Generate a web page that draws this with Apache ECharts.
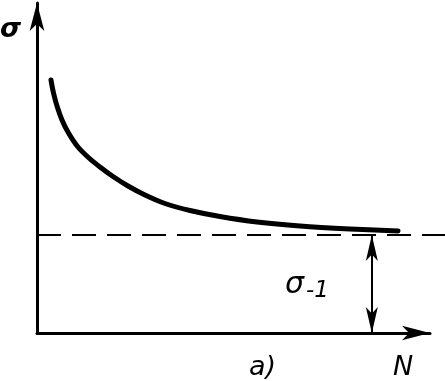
<!DOCTYPE html>
<html>
<head>
<meta charset="utf-8">
<script src="https://cdn.jsdelivr.net/npm/echarts@6/dist/echarts.min.js"></script>
<style>html,body{margin:0;padding:0;background:#fff}#c{width:445px;height:381px}</style>
</head>
<body>
<div id="c"></div>
<script>
// Fatigue (S-N) curve (arbitrary units)
const curveN = [0.356, 0.420, 0.509, 0.636, 0.802, 1.043, 1.323, 1.603, 1.934, 2.316, 2.748, 3.257, 3.893, 4.656, 5.598, 6.692, 7.964, 9.186];
const curveSigma = [7.667, 7.273, 6.879, 6.455, 6.061, 5.636, 5.303, 5.030, 4.742, 4.455, 4.182, 3.924, 3.712, 3.530, 3.364, 3.242, 3.152, 3.091];
const enduranceLimit = 2.97;         // σ-1
const limitLineN = [0, 10.38];       // dashed line extent (runs past the axis arrow)
const limitArrowN = 8.52;            // where σ-1 is dimensioned
const axisNames = { y: 'σ', x: 'N' };
const caption = 'a)';

const chart = echarts.init(document.getElementById('c'));
const hidden = { show: false };
const axisCommon = {
  type: 'value', min: 0, max: 10,
  axisLine: { show: true, lineStyle: { color: '#000', width: 3 }, symbol: ['none', 'arrow'], symbolSize: [11, 28] },
  axisTick: hidden, axisLabel: hidden, splitLine: hidden
};
const hiddenAxis = { type: 'value', min: 0, max: 10, show: false, axisLine: hidden, axisTick: hidden, axisLabel: hidden, splitLine: hidden };
const txt = (size, extra) => Object.assign({ fontSize: size, fontStyle: 'italic', fontFamily: 'DejaVu Sans', fill: '#000' }, extra || {});
chart.setOption({
  animation: false,
  backgroundColor: '#fff',
  grid: [
    { left: 37, right: 15, top: 3, bottom: 48 },
    { left: 37, right: 0, top: 3, bottom: 48 }
  ],
  xAxis: [
    Object.assign({ gridIndex: 0 }, axisCommon),
    Object.assign({}, hiddenAxis, { gridIndex: 1, max: limitLineN[1] })
  ],
  yAxis: [
    Object.assign({ gridIndex: 0 }, axisCommon),
    Object.assign({}, hiddenAxis, { gridIndex: 1 })
  ],
  graphic: [
    { type: 'text', left: 0, top: 16, style: txt(27, { text: axisNames.y, fontWeight: 'bold' }) },
    { type: 'text', left: 393, top: 354, style: txt(27, { text: axisNames.x }) },
    { type: 'text', left: 249, top: 354, style: txt(27, { text: caption }) },
    { type: 'text', left: 285, top: 270, style: {
        text: '{a|σ}{b|-1}',
        rich: {
          a: { fontSize: 30, fontStyle: 'italic', fontFamily: 'DejaVu Sans', fill: '#000' },
          b: { fontSize: 23, fontStyle: 'italic', fontFamily: 'DejaVu Sans', fill: '#000', padding: [12, 0, 0, 2] }
        } } }
  ],
  series: [
    {
      type: 'custom', coordinateSystem: 'cartesian2d', xAxisIndex: 0, yAxisIndex: 0,
      data: curveN.map((n, i) => [n, curveSigma[i]]),
      encode: { x: 0, y: 1 },
      renderItem: function (params, api) {
        if (params.dataIndex !== 0) return null;
        const pts = curveN.map((n, i) => api.coord([n, curveSigma[i]]));
        return {
          type: 'polyline',
          shape: { points: pts, smooth: 0.35 },
          style: { stroke: '#000', lineWidth: 5, fill: 'none', lineCap: 'round', lineJoin: 'round' }
        };
      }
    },
    {
      type: 'line', showSymbol: false, xAxisIndex: 1, yAxisIndex: 1,
      data: limitLineN.map(n => [n, enduranceLimit]),
      lineStyle: { color: '#000', width: 2, type: [24, 11] }
    },
    {
      type: 'line', showSymbol: false, xAxisIndex: 0, yAxisIndex: 0, data: [],
      markLine: {
        silent: true, animation: false,
        symbol: ['arrow', 'arrow'], symbolSize: [9, 26],
        lineStyle: { color: '#000', width: 2, type: 'solid' },
        label: { show: false },
        data: [[{ coord: [limitArrowN, 0] }, { coord: [limitArrowN, enduranceLimit] }]]
      }
    }
  ]
});
</script>
</body>
</html>
